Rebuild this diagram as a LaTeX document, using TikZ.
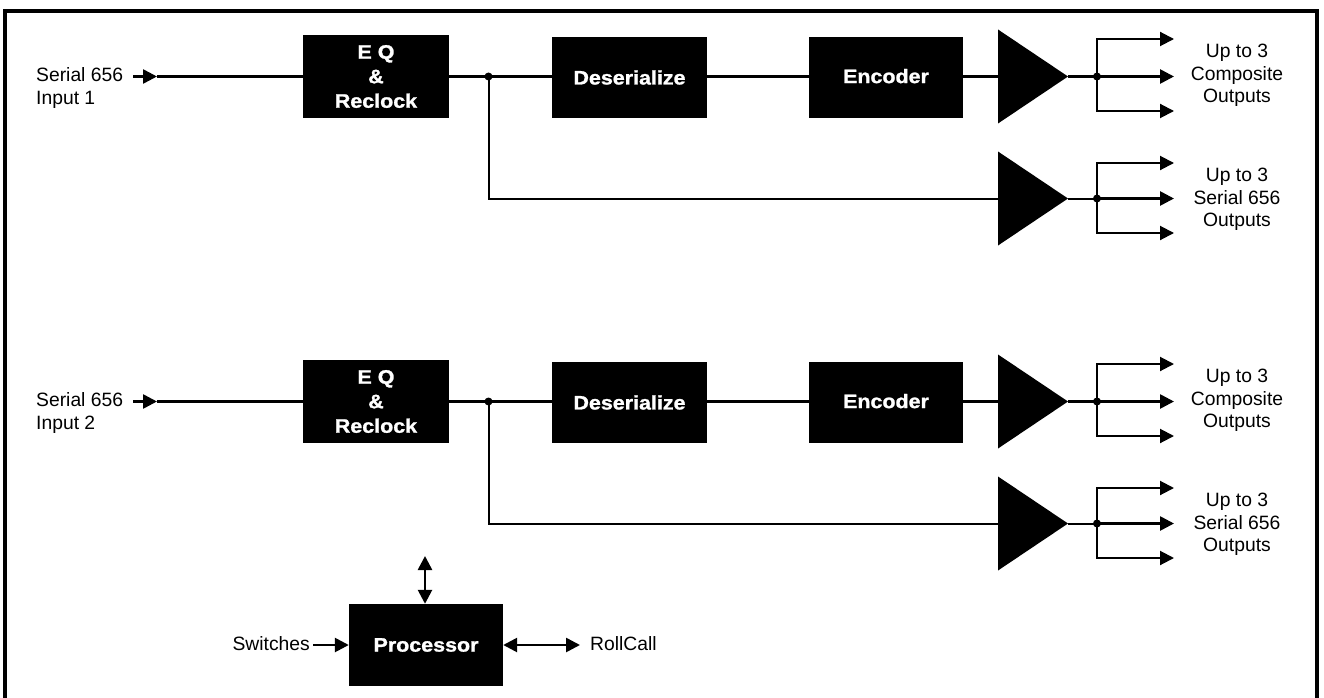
\documentclass[tikz,border=0pt]{standalone}
\usepackage{fontspec}
\setmainfont{Liberation Sans}
\newfontfamily\boxfont[FakeStretch=1.1,FakeBold=1.3]{Liberation Sans}
\usetikzlibrary{arrows.meta}
\tikzset{
  blk/.style={fill=black, text=white, font=\boxfont\bfseries\fontsize{19.5}{24.5}\selectfont, align=center, inner sep=0pt},
  lbl/.style={font=\fontsize{19.3}{22.5}\selectfont, align=center, inner sep=0pt},
  wire/.style={line width=2.6pt},
  fan/.style={line width=2pt},
  arr/.style={-{Triangle[length=14pt,width=14pt]}},
  darr/.style={{Triangle[length=14pt,width=14pt]}-{Triangle[length=14pt,width=14pt]}},
  dot/.style={circle, fill=black, inner sep=0pt, minimum size=8pt},
}
\begin{document}
\begin{tikzpicture}[x=1pt,y=-1pt]
\useasboundingbox (0,0) rectangle (1324,698);
\draw[line width=4pt, line join=miter] (5,698) -- (5,11) -- (1317,11) -- (1317,698);

\foreach \r/\dy in {1/0,2/325}{
\begin{scope}[yshift=-\dy pt]
  % input
  \node[lbl, align=left, anchor=west] (in\r) at (36,88) {Serial 656\\Input \r};
  \coordinate (s\r) at (133,76.5);
  \coordinate (t\r) at (157,76.5);
  % blocks
  \node[blk, minimum width=146pt, minimum height=83pt] (eq\r) at (376,76.5) {E Q\\\&\\Reclock};
  \node[blk, minimum width=155pt, minimum height=81pt] (des\r) at (629.5,77.5) {Deserialize};
  \node[blk, minimum width=154pt, minimum height=81pt] (enc\r) at (886,77.5) {\raisebox{3pt}{Encoder}};
  \node[dot] (j\r) at (488.5,76.5) {};
  % amplifier A
  \fill (998,29.5) -- (1068,76.5) -- (998,123.5) -- cycle;
  \coordinate (aAin\r) at (998,76.5);
  \coordinate (aAout\r) at (1068,76.5);
  \node[dot] (fA\r) at (1097,76.5) {};
  \coordinate (oAt\r) at (1174,39);
  \coordinate (oAm\r) at (1174,76.5);
  \coordinate (oAb\r) at (1174,111);
  \node[lbl] (lA\r) at (1237,75.5) {Up to 3\\Composite\\Outputs};
  % amplifier B
  \fill (998,151.5) -- (1068,198.5) -- (998,245.5) -- cycle;
  \coordinate (aBin\r) at (998,198.5);
  \coordinate (aBout\r) at (1068,198.5);
  \node[dot] (fB\r) at (1097,198.5) {};
  \coordinate (oBt\r) at (1174,163);
  \coordinate (oBm\r) at (1174,198.5);
  \coordinate (oBb\r) at (1174,233);
  \node[lbl] (lB\r) at (1237,199.5) {Up to 3\\Serial 656\\Outputs};
  % connectors
  \draw[wire,arr] (s\r) -- (t\r);
  \draw[wire] (t\r) -- (eq\r.west);
  \draw[wire] (eq\r.east) -- (j\r.center) -- (des\r.west |- j\r);
  \draw[wire] (des\r.east |- j\r) -- (enc\r.west |- j\r);
  \draw[wire] (enc\r.east |- j\r) -- (aAin\r);
  \draw[fan] (j\r.center) |- (aBin\r);
  \draw[wire] (aAout\r) -- (fA\r.center);
  \draw[fan,arr] (fA\r.center) |- (oAt\r);
  \draw[wire,arr] (fA\r.center) -- (oAm\r);
  \draw[fan,arr] (fA\r.center) |- (oAb\r);
  \draw[fan] (aBout\r) -- (fB\r.center);
  \draw[fan,arr] (fB\r.center) |- (oBt\r);
  \draw[wire,arr] (fB\r.center) -- (oBm\r);
  \draw[fan,arr] (fB\r.center) |- (oBb\r);
\end{scope}
}

% processor
\node[blk, minimum width=154pt, minimum height=82pt] (proc) at (426,645) {Processor};
\node[lbl, anchor=east] (sw) at (310,644) {Switches};
\node[lbl, anchor=west] (rc) at (590,644) {RollCall};
\coordinate (bus) at (425,556);
\draw[wire,arr] ([xshift=3pt]sw.east |- proc) -- (proc.west);
\draw[wire,darr] (proc.east) -- ([xshift=-10pt]rc.west |- proc);
\draw[wire,darr] (bus) -- (proc.north -| bus);
\end{tikzpicture}
\end{document}
